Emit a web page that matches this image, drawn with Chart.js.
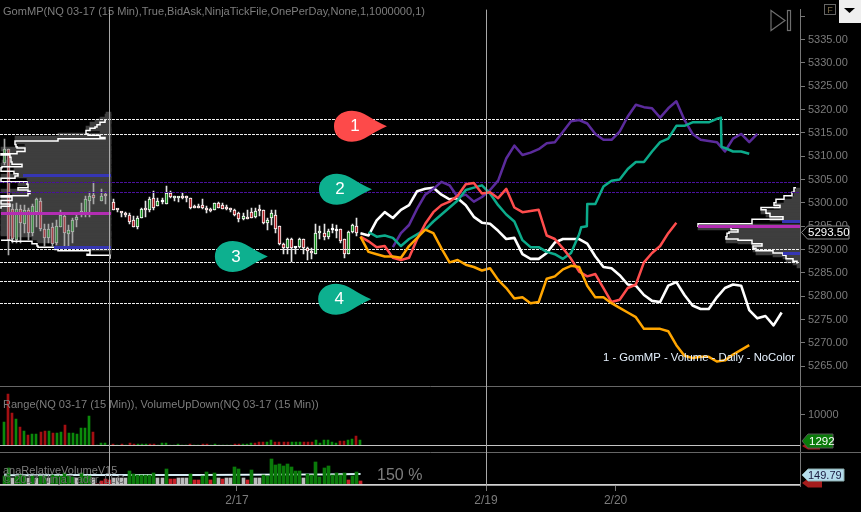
<!DOCTYPE html>
<html><head><meta charset="utf-8">
<style>html,body{margin:0;padding:0;background:#000}canvas{display:block}</style>
<script src="https://cdn.jsdelivr.net/npm/chart.js@4"></script>
</head><body><canvas id="c" width="861" height="512"></canvas>
<script>
const title = "GomMP(NQ 03-17 (15 Min),True,BidAsk,NinjaTickFile,OnePerDay,None,1,1000000,1)";
const volTitle = "Range(NQ 03-17 (15 Min)), VolumeUpDown(NQ 03-17 (15 Min))";
const relTitle = "anaRelativeVolumeV15";
const copyright = "© 2017 NinjaTrader, LLC";
const relPct = "150 %";
const legendText = "1 - GomMP - Volume - Daily - NoColor";

const priceTicks = [5265,5270,5275,5280,5285,5290,5295,5300,5305,5310,5315,5320,5325,5330,5335,5340];
const volumeTicks = [10000];
const dayTicks = [27,58.5,120,152];
const dayLabels = ["","2/17","2/19","2/20"];

// candles, bar 1 onward (null = no bar)
const candleOpen = [5308.5,5311.5,5298.75,5292,5298.75,5295.5,5298.5,5293.5,5298,5300.5,5294.5,5292.5,5294.75,5291.5,5294.75,5297.25,5293.25,5293.75,5296.25,5297.75,5297.75,5300.5,5301.75,null,5300.5,5301.75,null,5300.25,5298.75,5298,5297.75,5297.5,5296.25,5294.75,5296.75,5299,5298.5,5301,5299.25,5300.25,5299.75,5302,5301,5301,5301.5,5301.5,5301,5299.25,5299.25,5299.5,5299,5298.5,5298.5,5300,5299.5,5299,5299,5298.5,5297.75,5296.5,5296.75,5298,5297,5298.5,5298.5,5295.75,5296.75,5297.5,5295,5291.25,5290.25,5292.25,5290.25,5290.5,5292.25,5290.25,5289.75,5289,5293.5,5293.5,5292.75,5294.25,5294,5294.5,5292.25,5289,5293.75,5295];
const candleHigh = [5313.75,5311.5,5299.75,5300,5299.5,5299.5,5299,5299.75,5301,5301,5295.5,5295.5,5295.75,5296.25,5298.5,5297.5,5295.25,5296.75,5297.75,5300,5301.5,5302.25,5304.5,null,5303,5302.25,null,5300.75,5298.75,5298,5298,5297.75,5297.25,5297.25,5299,5300.5,5301.25,5302.5,5301,5301,5303.5,5302.5,5301.5,5301.25,5302,5301.5,5301,5299.5,5299.75,5300.75,5299.25,5299,5300,5300.25,5300,5299.5,5299,5298.75,5298,5297.75,5298.5,5299,5299,5299.5,5298.5,5296.75,5298.5,5298.5,5295,5291.5,5292.5,5292.5,5290.5,5292.5,5292.25,5290.5,5290.25,5295.5,5295,5295.5,5294.5,5295.5,5295.25,5294.5,5292.25,5294,5295.5,5296.75];
const candleLow = [5308,5288.75,5291.5,5291.5,5291.5,5293.5,5292,5293,5294.75,5294,5290.75,5291.5,5290.75,5291,5294.75,5290.75,5290.75,5291.5,5294.75,5297,5297,5297,5299.75,null,5300.5,5299.75,null,5298.5,5298,5297,5297,5295.5,5294.75,5294.5,5296.75,5297,5298,5298.5,5299.25,5299.75,5299.75,5301,5300.5,5300.25,5300.75,5300.25,5298.75,5299,5299,5298.75,5297.75,5298,5298.5,5299,5298.75,5298.5,5298,5297.25,5296,5296.25,5296.5,5296.75,5296.75,5297.25,5295.5,5294.25,5295.25,5293.5,5291,5289,5289,5287.25,5289,5290.25,5289,5287.75,5288,5289,5292.25,5292,5292.25,5293.5,5292.5,5291.5,5288.25,5289,5293.5,5293];
const candleClose = [5311.5,5292,5292.25,5298.75,5295.75,5298.5,5293.5,5299.25,5300.75,5294.5,5292.5,5294.5,5291.25,5295,5297.5,5293.5,5294.25,5296.25,5297,5298,5300.75,5301.5,5301,null,5301.5,5301.5,null,5298.5,5298.5,5297.75,5297.5,5296,5294.75,5296.75,5298.75,5298.5,5300.75,5299,5300.5,5300.25,5302,5301.25,5301.5,5301.25,5301,5301,5299,5299,5299,5299,5298.5,5298.25,5300,5299,5298.75,5298.75,5298.5,5297.5,5296.5,5297.25,5296.5,5296.75,5298.25,5298.25,5295.75,5296.25,5297.75,5294.5,5291.25,5290.25,5292.25,5290.25,5290.25,5292.25,5290.25,5289.75,5289.25,5293.5,5293.75,5292.75,5294,5294.25,5294,5291.75,5289,5293.75,5295.25,5293.5];

// range / volume panel, bar 1 onward
const volume = [7550,16760,10650,8650,5880,4440,3330,3440,3440,4220,4440,4440,4000,3770,4100,6660,3770,3770,3440,5550,5550,9430,4220,0,440,440,0,330,0,330,0,440,330,330,330,330,330,330,0,440,440,0,0,330,0,0,330,0,0,330,330,0,330,0,0,0,0,330,330,330,330,440,440,1000,1000,770,1440,1000,1000,1000,1000,770,770,770,770,770,770,1440,500,1440,1440,700,600,1220,1220,1440,1776,2775,1443];
const volumeDownBars = [2,3,5,7,10,11,13,16,23,28,30,32,33,37,38,47,50,51,58,59,63,64,65,68,69,70,71,75,76,77,84,85,88];

// relative volume panel, bar 1 onward
const relVolume = [139,267,105,139,150,128,105,128,105,139,128,105,156,128,139,178,139,122,105,178,128,128,105,0,56,83,72,105,105,105,105,222,167,144,156,144,156,189,105,105,256,83,83,100,100,105,167,72,72,139,200,72,183,105,89,105,105,289,250,105,72,239,105,105,156,128,422,322,333,306,333,289,222,222,105,167,156,367,122,267,306,156,189,156,189,72,139,200,56];
const relAverage = [148,148,149,150,150,152,155,158,160,168];
const relAverageBars = [1,10,20,30,40,50,60,70,80,89];

// session lines (price every second bar)
const whiteLine = [5293.5,5293,5296.25,5298,5296.75,5298.5,5299.5,5302.5,5303,5303.25,5301.75,5300.75,5301,5299.5,5297,5295.75,5295.5,5294,5292.25,5292.5,5289,5288,5288,5289.25,5291.5,5292.25,5292.25,5292.25,5291.25,5288.5,5286.25,5286,5284.5,5282.5,5282.25,5280.25,5279,5278.75,5282.25,5283,5280.25,5278,5277.25,5277.25,5279.75,5281.75,5282.5,5282.25,5277,5275.25,5275.75,5273.75,5276.5];
const redLine = [5292.75,5291.75,5290.5,5290.75,5288.25,5287.75,5288.25,5292.25,5295.5,5298,5299.5,5300.25,5301.5,5304,5304.25,5302,5302.25,5301,5303,5299,5298,5298.25,5298.5,5293,5292.25,5290.25,5288,5285.25,5284.25,5284.75,5281.75,5278.75,5279.25,5281.75,5282.5,5287.25,5289.25,5290.75,5293.5,5295.75];
const orangeLine = [5292.75,5289.5,5289,5288.5,5288.5,5288.25,5290.75,5292.5,5294.25,5293.5,5290.25,5287.25,5287.75,5286.75,5286.25,5285.5,5286,5283.5,5281.75,5279.5,5279.75,5278.5,5278.75,5283.75,5284.25,5285.75,5286.5,5286.25,5282.25,5279.75,5279.75,5278.5,5277.5,5276.5,5275.5,5273,5273,5273,5272.5,5269.5,5267.25,5266.75,5267,5267,5266,5266.25,5267.5,5268.5,5269.5];
const tealLine = [5293.75,5292.75,5293,5292.5,5290.75,5292.25,5293.25,5294.25,5296,5297.5,5299,5300.5,5302.75,5303.25,5303.75,5302,5299.5,5297.5,5296,5292,5290.5,5290.5,5289.5,5289,5288,5289.25,5293.25,5299.75,5299.75,5303.5,5304.75,5305,5307.25,5308.75,5308.75,5311,5313,5313.75,5316.5,5316.5,5317.25,5317.25,5317.25,5318,5311.75,5311,5311,5310.5];
const tealStepBars = [143.5,144.9,178,178.15];
const tealStepPrices = [5294.75,5295,5318.25,5312];
const purpleLine = [5290.5,5293.5,5295.25,5298.75,5301.75,5303,5304.5,5303.75,5301.25,5301.75,5300.25,5301.25,5302.75,5304.75,5309.5,5312.25,5310.25,5310.75,5311.5,5312.75,5313,5315.25,5317.5,5317.75,5317,5314.75,5313.5,5313.5,5315.25,5318.5,5321,5320.5,5320.25,5318.25,5320.25,5321.75,5317.75,5314.75,5313.5,5313.25,5313,5311,5313.75,5314.75,5313,5314.75];
const whiteStart = 89, redStart = 89, orangeStart = 89, tealStart = 91, purpleStart = 97;

// horizontal levels
const dashedLevels = [5317.85,5314.65,5290.05,5287.25,5283.2,5278.5];
const purpleLevels = [5304.3,5302.25];

// volume profiles
const leftProfilePrice = [5317.75,5317.25,5316.75,5316.25,5316,5315.5,5314.75,5314.5,5314,5313.75,5313.25,5312.5,5312,5311.75,5311,5310.5,5310.25,5309.75,5309.25,5308.75,5308.25,5307.75,5307.5,5306.75,5306.25,5305.75,5305.25,5304.5,5304,5303.75,5303.25,5302.75,5302.5,5302,5301.5,5301.25,5300.5,5299.75,5299.5,5299.25,5298.75,5298.25,5297.5,5296.75,5296.25,5295.5,5295,5294.25,5293.75,5293,5292.25,5292,5291.75,5291.25,5290.75,5290.5,5290,5289.75,5289.5,5289,5288.75,5288.5,5288];
const leftProfileVolume = [5,6,11,14,16,21,25,23,11,6,53,96,95,94,86,94,110,101,100,100,99,89,109,110,97,93,96,110,84,83,83,93,83,81,83,110,99,110,101,101,110,110,110,110,110,110,110,110,110,110,110,110,99,79,74,73,56,53,21,21,24,1,1];
const leftEdgeHiddenFrom = 5292.25, leftEdgeHiddenTo = 5298.25;
const rightProfilePrice = [5303.25,5302.75,5302.25,5301.5,5300.75,5300,5299.5,5299,5298.5,5297.75,5297,5296.5,5295.5,5295,5294.25,5293.75,5293.5,5292.75,5292.25,5292,5291.25,5290.75,5290.25,5289.75,5289.25,5288.75,5288,5287.5,5287];
const rightProfileVolume = [4,6,6,8,16,24,26,20,39,34,30,17,48,102,69,62,71,73,74,62,48,38,47,44,27,17,14,7,3];
// profile levels: price, volume reach
const leftBluePrice = [5305.75,5290.5], leftBlueReach = [88,57];
const leftPocPrice = 5297.75, leftPocReach = 110;
const rightBluePrice = [5296,5289.25], rightBlueReach = [18,17];
const rightPocPrice = 5295, rightPocReach = 102;

// numbered markers
const markerLabels = ["1","2","3","4"];
const markerBars = [86.9,83.2,57.5,83];
const markerPrices = [5316.4,5302.9,5288.5,5279.35];
const markerColors = ["#fd4a4a","#0db08f","#0db08f","#0db08f"];

// last-value tags
const lastPrice = 5293.5;
const lastVolume = 1292;
const lastRelative = 149.79;

const barsInView = 800/4.05;
const seq = (start, arr) => arr.map((v,i)=>({x:start+i*2,y:v}));
const idx = candleOpen.map((_,i)=>i+1);
const GREEN='#0a8a12', RED='#b01a1f';
const inProfile = b => b <= 27;

const wicks = idx.map((b,i)=>({x:b,y:[candleLow[i],candleHigh[i]]})).filter(p=>p.y[0]!==null);
const bodies = idx.map((b,i)=>({x:b,y:[candleOpen[i],candleClose[i]]})).filter(p=>p.y[0]!==null);
const bodyCol = bodies.map(p=>{
  const up=p.y[1]>p.y[0], flat=p.y[0]===p.y[1], dim=inProfile(p.x);
  return flat?(dim?'#aaa':'#fff'):(up?(dim?'#3f8f46':GREEN):(dim?'#a4444a':RED));
});
const wickCol = wicks.map(p=>inProfile(p.x)?'#a8a8a8':'#e4e4e4');
const bodyEdge = bodies.map(p=>inProfile(p.x)?'#b4b4b4':'#ffffff');

const hline=(price,color,dash,w)=>({type:'line',xAxisID:'x',yAxisID:'y',snap:true,
  data:[{x:0,y:price},{x:barsInView,y:price}],borderColor:color,borderWidth:w||1,borderDash:dash,pointRadius:0,order:2.5});
const series=(data,color,w)=>({type:'line',xAxisID:'x',yAxisID:'y',data,borderColor:color,borderWidth:w||2.5,pointRadius:0,tension:0,order:1,borderJoinStyle:'round'});
const levelLine=(axis,price,reach,color,w,o)=>({type:'line',xAxisID:axis,yAxisID:'y',snap:true,
  data:[{x:0,y:price},{x:reach,y:price}],borderColor:color,borderWidth:w,pointRadius:0,order:o});
const profFill=(axis,pr,vo)=>({type:'bar',indexAxis:'y',xAxisID:axis,yAxisID:'y',
  data:pr.map((p,i)=>({x:vo[i],y:p})),backgroundColor:'#3e3e3e',barThickness:4,order:4});
const profEdge=(axis,pr,vo,hide)=>({type:'scatter',xAxisID:axis,yAxisID:'y',showLine:true,stepped:'before',
  data:pr.map((p,i)=>({x:(hide&&p>=hide[0]&&p<=hide[1])?null:vo[i],y:p})),borderColor:'#fff',borderWidth:1.5,pointRadius:0,order:3});

const tealData = seq(tealStart,tealLine).concat(tealStepBars.map((b,i)=>({x:b,y:tealStepPrices[i]}))).sort((a,b)=>a.x-b.x);

const datasets=[
  // candles
  {type:'bar',xAxisID:'x',yAxisID:'y',data:wicks,backgroundColor:wickCol,barThickness:1,grouped:false,order:3.7},
  {type:'bar',xAxisID:'x',yAxisID:'y',data:bodies,backgroundColor:bodyCol,borderColor:bodyEdge,borderWidth:1,borderSkipped:false,barThickness:3,minBarLength:2,grouped:false,order:3.5},
  // profiles
  profFill('xL',leftProfilePrice,leftProfileVolume),profEdge('xL',leftProfilePrice,leftProfileVolume,[leftEdgeHiddenFrom,leftEdgeHiddenTo]),
  profFill('xR',rightProfilePrice,rightProfileVolume),profEdge('xR',rightProfilePrice,rightProfileVolume),
  levelLine('xL',leftBluePrice[0],leftBlueReach[0],'#3636b4',3,2),
  levelLine('xL',leftBluePrice[1],leftBlueReach[1],'#3636b4',3,2),
  levelLine('xL',leftPocPrice,leftPocReach,'#b32db3',3,2),
  levelLine('xR',rightBluePrice[0],rightBlueReach[0],'#3636b4',3,2),
  levelLine('xR',rightBluePrice[1],rightBlueReach[1],'#3636b4',3,2),
  levelLine('xR',rightPocPrice,rightPocReach,'#b32db3',3,2),
  // levels
  ...dashedLevels.map(p=>hline(p,'#eeeeee',[3,1])),
  ...purpleLevels.map(p=>hline(p,'#4a119c',[3,1])),
  // session lines
  series(seq(orangeStart,orangeLine),'#ffa500'),
  series(seq(redStart,redLine),'#ff4d4d'),
  series(tealData,'#0cab8b'),
  series(seq(purpleStart,purpleLine),'#5b2b9c'),
  series(seq(whiteStart,whiteLine),'#ffffff',2.6),
  // volume
  {type:'bar',xAxisID:'x',yAxisID:'yVol',data:volume.map((v,i)=>({x:i+1,y:v})),
   backgroundColor:volume.map((v,i)=>volumeDownBars.includes(i+1)?'#a30f12':'#0b8a0b'),barThickness:2,grouped:false,order:5},
  // relative volume
  {type:'bar',xAxisID:'x',yAxisID:'yRel',data:relVolume.map((v,i)=>({x:i+1,y:v})),
   backgroundColor:relVolume.map(v=>v<90?'#c8222a':(v<122?'#bdbdbd':'#0a7a0a')),barThickness:3,grouped:false,order:5},
  {type:'line',xAxisID:'x',yAxisID:'yRel',data:relAverageBars.map((b,i)=>({x:b,y:relAverage[i]})),borderColor:'#a9d6e5',borderWidth:2,pointRadius:0,order:6},
  {type:'line',xAxisID:'x',yAxisID:'yRel',data:relAverageBars.map((b,i)=>({x:b,y:relAverage[i]})),borderColor:'#ffffff',borderWidth:1,pointRadius:0,order:5.5},
];

const FONT='"Liberation Sans"';
const GREY='#7b7b7b';
function tag(ctx,x,y,w,h,fill,stroke){
  ctx.beginPath();ctx.moveTo(x,y);ctx.lineTo(x+6,y-h/2);ctx.lineTo(x+w,y-h/2);ctx.lineTo(x+w,y+h/2);ctx.lineTo(x+6,y+h/2);ctx.closePath();
  ctx.fillStyle=fill;ctx.fill();if(stroke){ctx.strokeStyle=stroke;ctx.lineWidth=1;ctx.stroke();}
}
// keep thin bars and level lines on whole pixels, as the original rendering does
const snap={id:'snap',
 afterDatasetsUpdate(chart){
  chart.getSortedVisibleDatasetMetas().forEach(m=>{
    const ds=chart.data.datasets[m.index];
    if(m.type==='bar'){
      m.data.forEach(el=>{
        if(ds.indexAxis==='y'){el.y=Math.round(el.y);return;}
        const odd=ds.barThickness%2===1;
        el.x=odd?Math.floor(el.x)+.5:Math.round(el.x);
        el.y=Math.round(el.y);el.base=Math.round(el.base);
        if(el.height!==undefined&&el.height!==null)el.height=el.base-el.y;
      });
    } else if(ds.snap){
      const odd=ds.borderWidth%2===1;
      m.data.forEach(el=>{el.y=odd?Math.floor(el.y)+.5:Math.round(el.y);});
    }
  });
 }};
const overlay={id:'overlay',
 afterDatasetsDraw(chart){
  const {ctx,scales:s}=chart;ctx.save();
  // markers
  markerLabels.forEach((t,i)=>{
    const cx=s.x.getPixelForValue(markerBars[i]),cy=s.y.getPixelForValue(markerPrices[i]);
    ctx.beginPath();ctx.moveTo(cx+35,cy);
    ctx.bezierCurveTo(cx+20,cy-6,cx+12,cy-15.5,cx,cy-15.5);
    ctx.bezierCurveTo(cx-11,cy-15.5,cx-18,cy-9,cx-18,cy);
    ctx.bezierCurveTo(cx-18,cy+9,cx-11,cy+15.5,cx,cy+15.5);
    ctx.bezierCurveTo(cx+12,cy+15.5,cx+20,cy+6,cx+35,cy);
    ctx.fillStyle=markerColors[i];ctx.fill();
    ctx.fillStyle='#fff';ctx.font='17px '+FONT;ctx.textAlign='center';ctx.textBaseline='middle';
    ctx.fillText(t,cx+3,cy+0.5);
  });
  // panel separators
  const sep=(y,x2,c)=>{ctx.strokeStyle=c;ctx.lineWidth=1;ctx.beginPath();ctx.moveTo(0,y+.5);ctx.lineTo(x2,y+.5);ctx.stroke();};
  sep(386,861,'#666');sep(452,861,'#666');
  sep(Math.round(s.yVol.getPixelForValue(0)),800,'#c4c4c4');
  sep(Math.round(s.yRel.getPixelForValue(0)),800,'#d0d0d0');
  sep(485,800,'#9a9a9a');
  // texts
  ctx.textAlign='left';ctx.textBaseline='alphabetic';
  ctx.fillStyle='#7d7d7d';ctx.font='11.05px '+FONT;
  ctx.fillText(title,3,15);
  ctx.fillText(volTitle,3,408);
  ctx.font='11px '+FONT;
  ctx.fillText(relTitle,3,474);
  ctx.fillStyle='#6a6a6a';
  ctx.fillText(copyright,3,483);
  ctx.fillStyle='#7d7d7d';ctx.font='16px '+FONT;
  ctx.fillText(relPct,377,480);
  ctx.fillStyle='#e6f2ff';ctx.font='11.3px '+FONT;
  ctx.fillText(legendText,603,361);
  // play icon
  ctx.strokeStyle='#6e6e6e';ctx.lineWidth=1.2;
  ctx.beginPath();ctx.moveTo(771,10.5);ctx.lineTo(785,20.5);ctx.lineTo(771,30.5);ctx.closePath();ctx.stroke();
  ctx.strokeRect(787.5,10.5,3,20);
  // F box and menu button
  ctx.strokeStyle='#666';ctx.lineWidth=1;ctx.strokeRect(824.5,4.5,11,10);
  ctx.fillStyle='#7a6a4a';ctx.font='9px '+FONT;ctx.textAlign='center';ctx.fillText('F',830,13);
  ctx.fillStyle='#efefef';ctx.fillRect(839,0,22,23);
  ctx.fillStyle='#000';ctx.beginPath();ctx.moveTo(844,8);ctx.lineTo(855,8);ctx.lineTo(849.5,13);ctx.closePath();ctx.fill();
  // value tags
  const px=s.y.getPixelForValue(lastPrice);
  tag(ctx,801.5,Math.round(px)-.5,47.5,13,'#000','#8a8a8a');
  ctx.font='11.5px '+FONT;ctx.textAlign='left';ctx.textBaseline='middle';
  ctx.fillStyle='#fff';ctx.fillText(lastPrice.toFixed(2),808,Math.round(px));
  const vy=Math.round(s.yVol.getPixelForValue(lastVolume));
  tag(ctx,802,vy+5,18,7,'#a51c1c');
  tag(ctx,802,vy,31,14,'#0a7a0a','#555');
  ctx.fillStyle='#fff';ctx.fillText(String(lastVolume),809,vy+.5);
  const ry=Math.round(s.yRel.getPixelForValue(lastRelative));
  tag(ctx,802,ry+8,20,9,'#a51c1c');
  tag(ctx,802,ry,42,12,'#b5dcec','#8aa');
  ctx.font='11px '+FONT;
  ctx.fillStyle='#1a1a40';ctx.fillText(lastRelative.toFixed(2),808,ry+.5);
  ctx.restore();
 }};

const rightAxis=(extra)=>Object.assign({position:'right',stack:'panels',offset:false,
  grid:{drawOnChartArea:false,color:'#777',tickLength:5,offset:false},
  border:{color:'#777'},
  ticks:{color:GREY,font:{family:'Liberation Sans',size:11},padding:3,autoSkip:false,maxRotation:0},
  afterFit(a){a.width=61;}},extra);

new Chart(document.getElementById('c'),{
 data:{datasets},
 plugins:[{id:'bg',beforeDraw(c){c.ctx.fillStyle='#000';c.ctx.fillRect(0,0,861,512);}},snap,overlay],
 options:{responsive:false,animation:false,devicePixelRatio:1,layout:{padding:{top:9}},
  plugins:{legend:{display:false},tooltip:{enabled:false}},
  scales:{
   x:{type:'linear',position:'bottom',min:0,max:barsInView,offset:false,
      afterBuildTicks(a){a.ticks=dayTicks.map(v=>({value:v}));},
      grid:{z:1,tickLength:5,offset:false,color:c=>(c.tick&&(c.tick.value===27||c.tick.value===120))?'#a8a8a8':'rgba(0,0,0,0)',
            tickColor:c=>(c.tick&&c.tick.value===27)?'rgba(0,0,0,0)':'#777'},
      border:{display:false},
      ticks:{color:GREY,font:{family:'Liberation Sans',size:12},maxRotation:0,autoSkip:false,padding:2,
        callback:(v)=>dayLabels[dayTicks.indexOf(v)]??''},
      afterFit(a){a.height=26;}},
   xL:{type:'linear',display:false,min:-689,max:111,reverse:true,offset:false},
   xR:{type:'linear',display:false,min:0,max:800,reverse:true,offset:false},
   y:rightAxis({type:'linear',min:5260.73,max:5341.4,stackWeight:377,weight:1,
      afterBuildTicks(a){a.ticks=priceTicks.map(v=>({value:v}));},
      ticks:{color:GREY,font:{family:'Liberation Sans',size:11},padding:3,autoSkip:false,
        callback:v=>v===5340?'':v.toFixed(2)}}),
   yVol:rightAxis({type:'linear',min:-2500,max:19480,stackWeight:66,weight:2,
      afterBuildTicks(a){a.ticks=volumeTicks.map(v=>({value:v}));},
      ticks:{color:GREY,font:{family:'Liberation Sans',size:11},padding:3,autoSkip:false,callback:v=>String(v)}}),
   yRel:rightAxis({type:'linear',min:-33,max:533,stackWeight:34,weight:3,
      afterBuildTicks(a){a.ticks=[];},
      ticks:{display:false}})
  }}
});
</script></body></html>
